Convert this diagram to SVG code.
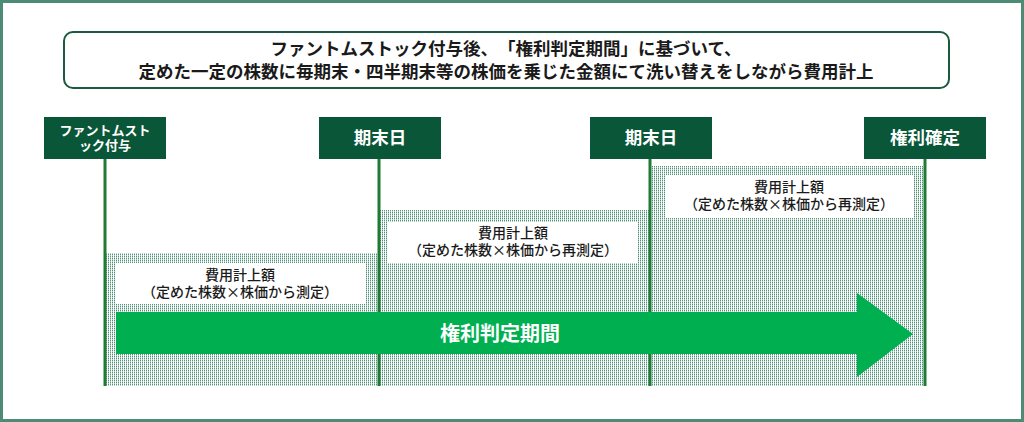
<svg xmlns="http://www.w3.org/2000/svg" width="1024" height="422" viewBox="0 0 1024 422">
  <style>
    .jp { font-family: "Noto Sans CJK JP", "Noto Sans", sans-serif; text-spacing-trim: space-all; }
    .title { font-size: 17.5px; font-weight: 700; fill: #1a1a1a; }
    .nodebox { fill: #0a5638; }
    .nodetxt { font-size: 17.5px; font-weight: 700; fill: #ffffff; }
    .nodetxt-s { font-size: 13px; font-weight: 700; fill: #ffffff; }
    .lbl { font-size: 14px; font-weight: 500; fill: #1a1a1a; }
    .vline { stroke: #1f7a35; stroke-width: 3; fill: none; }
    .hatch { fill: url(#dots); }
    .wbox { fill: #ffffff; }
  </style>
  <defs>
    <pattern id="dots" width="2" height="2" patternUnits="userSpaceOnUse">
      <rect width="2" height="2" fill="#ffffff"/>
      <rect width="1" height="1" fill="#4f927a"/>
      <rect y="1" width="1" height="1" fill="#b4d3c5"/>
    </pattern>
  </defs>

  <rect x="0" y="0" width="1024" height="422" fill="#ffffff"/>
  <rect x="1.5" y="1.5" width="1021" height="419" fill="none" stroke="#4e8b74" stroke-width="3"/>

  <g id="title">
    <rect x="64" y="32" width="885" height="56" rx="9" fill="#ffffff" stroke="#1a5a3e" stroke-width="2"/>
    <text class="jp title" x="506" y="55" text-anchor="middle">ファントムストック付与後、「権利判定期間」に基づいて、</text>
    <text class="jp title" x="506" y="78" text-anchor="middle">定めた一定の株数に毎期末・四半期末等の株価を乗じた金額にて洗い替えをしながら費用計上</text>
  </g>

  <g id="regions">
    <rect class="hatch" x="105" y="253" width="274" height="133"/>
    <rect class="hatch" x="379" y="210" width="271" height="176"/>
    <rect class="hatch" x="650" y="166" width="275" height="220"/>
  </g>

  <g id="connectors">
    <line class="vline" x1="105" y1="159" x2="105" y2="386"/>
    <line class="vline" x1="379" y1="159" x2="379" y2="386"/>
    <line class="vline" x1="650" y1="159" x2="650" y2="386"/>
    <line class="vline" x1="925" y1="159" x2="925" y2="386"/>
  </g>

  <g id="cost1">
    <rect class="wbox" x="116" y="263" width="249" height="41"/>
    <text class="jp lbl" x="240" y="280" text-anchor="middle">費用計上額</text>
    <text class="jp lbl" x="240" y="297" text-anchor="middle">（定めた株数×株価から測定）</text>
  </g>
  <g id="cost2">
    <rect class="wbox" x="388" y="222" width="250" height="41"/>
    <text class="jp lbl" x="513" y="238" text-anchor="middle">費用計上額</text>
    <text class="jp lbl" x="513" y="255" text-anchor="middle">（定めた株数×株価から再測定）</text>
  </g>
  <g id="cost3">
    <rect class="wbox" x="665" y="175" width="248" height="43"/>
    <text class="jp lbl" x="789" y="192" text-anchor="middle">費用計上額</text>
    <text class="jp lbl" x="789" y="209" text-anchor="middle">（定めた株数×株価から再測定）</text>
  </g>

  <g id="node-grant">
    <rect class="nodebox" x="44" y="117" width="122" height="42"/>
    <text class="jp nodetxt-s" x="105" y="135" text-anchor="middle">ファントムスト</text>
    <text class="jp nodetxt-s" x="105" y="150" text-anchor="middle">ック付与</text>
  </g>
  <g id="node-period1">
    <rect class="nodebox" x="319" y="117" width="122" height="42"/>
    <text class="jp nodetxt" x="380" y="144" text-anchor="middle">期末日</text>
  </g>
  <g id="node-period2">
    <rect class="nodebox" x="590" y="117" width="122" height="42"/>
    <text class="jp nodetxt" x="651" y="144" text-anchor="middle">期末日</text>
  </g>
  <g id="node-vesting">
    <rect class="nodebox" x="864" y="117" width="122" height="42"/>
    <text class="jp nodetxt" x="925" y="144" text-anchor="middle">権利確定</text>
  </g>

  <g id="period-arrow">
    <polygon points="116,312 857,312 857,293 913,334 857,377 857,354 116,354" fill="#00b050"/>
    <text class="jp" x="500" y="341" text-anchor="middle" font-size="20" font-weight="700" fill="#ffffff">権利判定期間</text>
  </g>
</svg>
